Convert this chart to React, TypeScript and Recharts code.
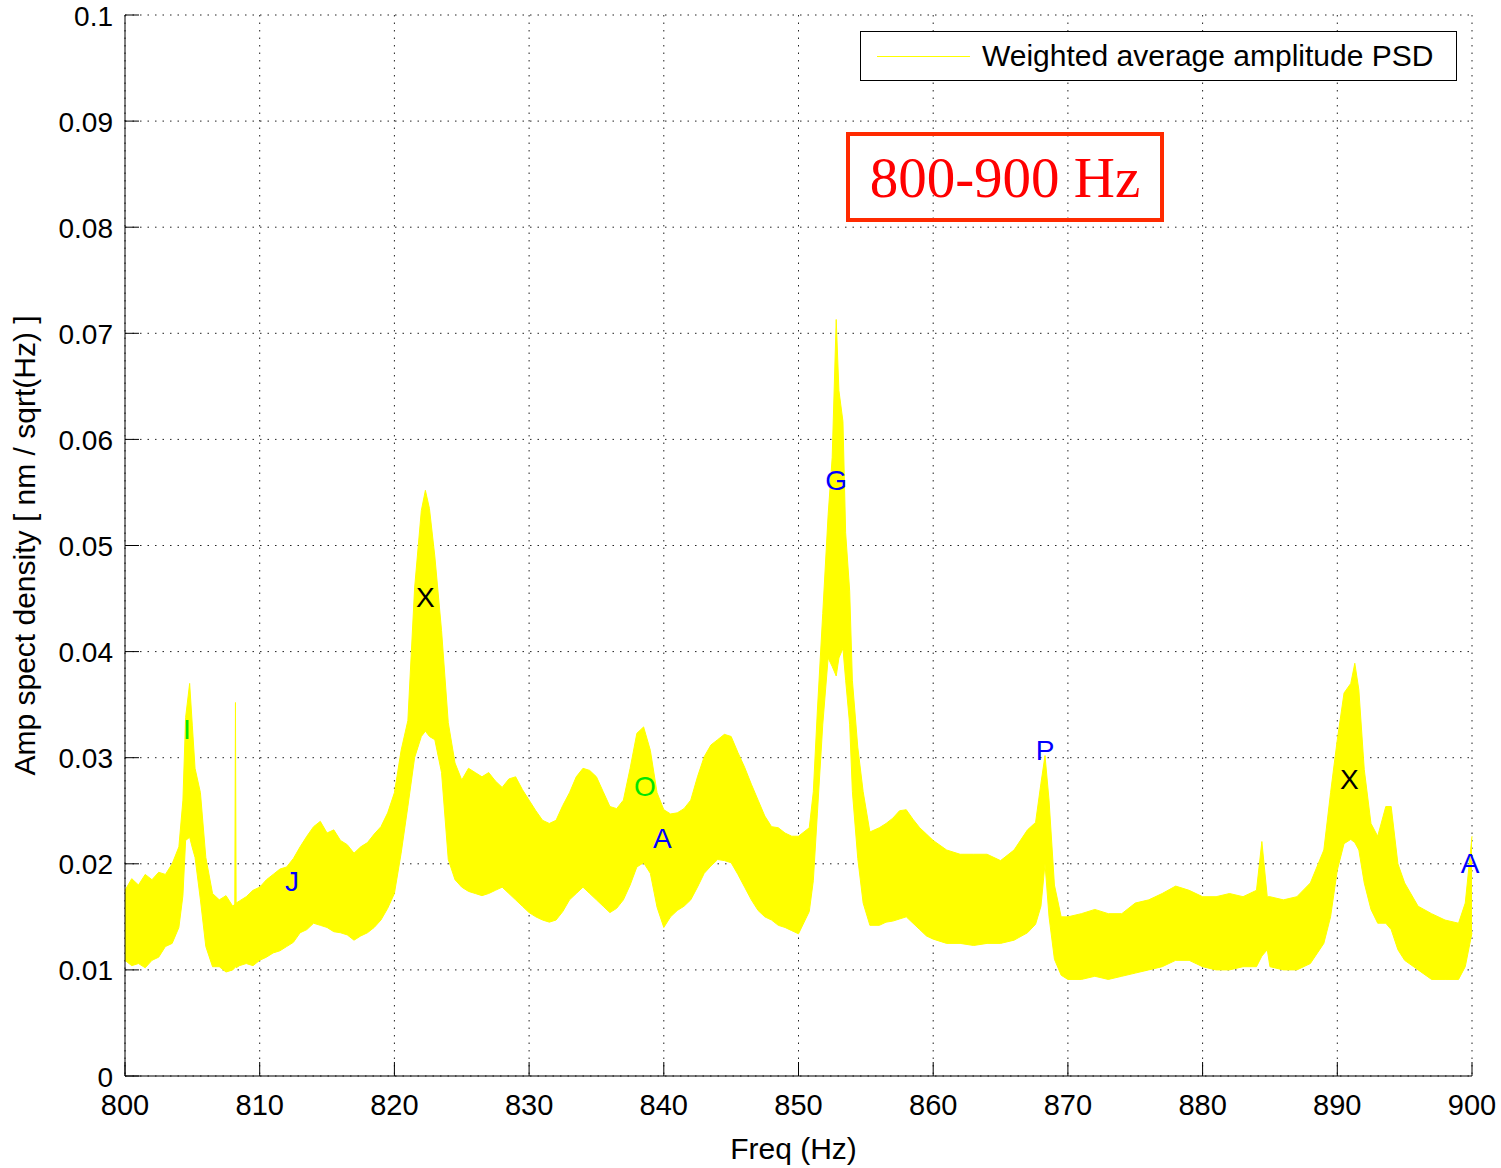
import React from 'react';
import {
  ComposedChart,
  Area,
  Scatter,
  XAxis,
  YAxis,
  CartesianGrid,
  Legend,
  Label,
} from 'recharts';

// frequency (Hz) and lower / upper envelope of the noisy PSD band
const FREQ = [
  800, 800.5, 801, 801.5, 802, 802.5, 803, 803.5, 804, 804.3, 804.5, 804.8, 805, 805.2, 805.6, 806, 806.5, 807, 807.5,
  808, 808.15, 808.2, 808.25, 808.5, 809, 809.5, 810, 810.5, 811, 811.5, 812, 812.5, 813, 813.5, 814, 814.5, 815, 815.5,
  816, 816.5, 817, 817.5, 818, 818.5, 819, 819.5, 820, 820.5, 821, 821.5, 822, 822.3, 822.6, 823, 823.5, 824, 824.5,
  825, 825.5, 826, 826.5, 827, 827.5, 828, 828.5, 829, 829.5, 830, 830.5, 831, 831.5, 832, 832.5, 833, 833.5, 834,
  834.5, 835, 835.5, 836, 836.5, 837, 837.5, 838, 838.5, 839, 839.5, 840, 840.5, 841, 841.5, 842, 842.5, 843, 843.5,
  844, 844.5, 845, 845.5, 846, 846.5, 847, 847.5, 848, 848.5, 849, 849.5, 850, 850.8, 851.1, 851.4, 851.8, 852.2,
  852.5, 852.8, 853, 853.3, 853.5, 853.8, 854, 854.4, 854.8, 855.3, 856, 856.5, 857, 857.5, 858, 858.5, 859, 859.5,
  860, 861, 862, 863, 864, 865, 866, 867, 867.6, 868, 868.3, 868.6, 869, 869.5, 870, 871, 872, 873, 874, 875, 876,
  877, 878, 879, 880, 881, 882, 883, 884, 884.4, 884.8, 885, 886, 887, 888, 889, 889.5, 890, 890.5, 891, 891.3, 891.6,
  892, 892.5, 893, 893.6, 894, 894.5, 895, 896, 897, 898, 899, 899.5, 900,
];

const LOW = [
  0.0109, 0.0104, 0.0106, 0.0102, 0.0109, 0.0112, 0.0122, 0.0125, 0.014, 0.017, 0.0222, 0.0225, 0.0215, 0.0206, 0.0166,
  0.0122, 0.0103, 0.0103, 0.0098, 0.01, 0.0102, 0.0104, 0.0102, 0.0104, 0.0106, 0.0104, 0.0109, 0.0112, 0.0116, 0.0118,
  0.0122, 0.0126, 0.0135, 0.0138, 0.0144, 0.0142, 0.014, 0.0136, 0.0135, 0.0133, 0.0128, 0.0132, 0.0135, 0.014, 0.0147,
  0.0158, 0.0172, 0.021, 0.0254, 0.03, 0.032, 0.0325, 0.032, 0.0317, 0.0286, 0.0204, 0.0185, 0.0178, 0.0174, 0.0172,
  0.017, 0.0172, 0.0175, 0.0178, 0.0172, 0.0166, 0.016, 0.0154, 0.015, 0.0147, 0.0145, 0.0147, 0.0155, 0.0166, 0.0172,
  0.0178, 0.0172, 0.0166, 0.016, 0.0154, 0.0158, 0.0166, 0.018, 0.0197, 0.0201, 0.0191, 0.0159, 0.014, 0.015, 0.0156,
  0.016, 0.0166, 0.0178, 0.0191, 0.0198, 0.0204, 0.0203, 0.0201, 0.019, 0.0178, 0.0166, 0.0156, 0.015, 0.0147, 0.0142,
  0.014, 0.0137, 0.0134, 0.0155, 0.0184, 0.0247, 0.0331, 0.0394, 0.0386, 0.0377, 0.0394, 0.0403, 0.0373, 0.0331,
  0.0268, 0.0205, 0.0163, 0.0142, 0.0142, 0.0145, 0.0146, 0.0148, 0.015, 0.0144, 0.0138, 0.0132, 0.0129, 0.0125,
  0.0125, 0.0123, 0.0125, 0.0125, 0.0128, 0.0135, 0.0143, 0.016, 0.02, 0.015, 0.011, 0.0095, 0.0091, 0.0091, 0.0094,
  0.0091, 0.0094, 0.0097, 0.01, 0.0103, 0.0109, 0.0109, 0.0103, 0.01, 0.01, 0.0103, 0.0103, 0.0113, 0.0119, 0.0103,
  0.01, 0.01, 0.0106, 0.0125, 0.015, 0.0194, 0.0219, 0.0223, 0.022, 0.0213, 0.0182, 0.0157, 0.0144, 0.0144, 0.0138,
  0.0119, 0.0109, 0.01, 0.0091, 0.0091, 0.0091, 0.0103, 0.0135,
];

const HIGH = [
  0.0175, 0.0186, 0.018, 0.019, 0.0185, 0.0192, 0.019, 0.02, 0.0216, 0.026, 0.0338, 0.037, 0.033, 0.029, 0.0267, 0.0206,
  0.0172, 0.0166, 0.017, 0.016, 0.0162, 0.0352, 0.0163, 0.0165, 0.0169, 0.0175, 0.0178, 0.0185, 0.019, 0.0195, 0.0197,
  0.0205, 0.0216, 0.0226, 0.0235, 0.024, 0.0229, 0.0232, 0.0222, 0.0218, 0.021, 0.0216, 0.022, 0.0228, 0.0235, 0.0248,
  0.0267, 0.0307, 0.0335, 0.046, 0.0533, 0.0552, 0.0535, 0.049, 0.042, 0.0333, 0.0295, 0.0279, 0.029, 0.0286, 0.0282,
  0.0286, 0.0278, 0.0272, 0.028, 0.0282, 0.027, 0.026, 0.025, 0.0241, 0.0238, 0.0241, 0.0255, 0.0267, 0.0282, 0.029,
  0.0288, 0.0282, 0.0268, 0.0254, 0.0252, 0.026, 0.029, 0.0323, 0.0329, 0.0307, 0.0267, 0.0251, 0.0247, 0.0248, 0.0252,
  0.026, 0.0282, 0.0301, 0.0312, 0.0317, 0.0322, 0.032, 0.0305, 0.0291, 0.0275, 0.026, 0.0245, 0.0235, 0.0234, 0.0229,
  0.0226, 0.0226, 0.0234, 0.0268, 0.0344, 0.0436, 0.0529, 0.0583, 0.0713, 0.0646, 0.0617, 0.0512, 0.0457, 0.0373,
  0.031, 0.0268, 0.023, 0.0234, 0.0238, 0.0243, 0.025, 0.0251, 0.0242, 0.0234, 0.0228, 0.0222, 0.0213, 0.0209, 0.0209,
  0.0209, 0.0203, 0.0213, 0.0232, 0.0239, 0.0276, 0.0302, 0.026, 0.018, 0.015, 0.015, 0.0153, 0.0157, 0.0153, 0.0153,
  0.0163, 0.0166, 0.0172, 0.0179, 0.0175, 0.0169, 0.0169, 0.0172, 0.0169, 0.0175, 0.0221, 0.0169, 0.0169, 0.0166,
  0.0169, 0.0182, 0.0213, 0.0267, 0.0317, 0.0361, 0.037, 0.0389, 0.0364, 0.0289, 0.0238, 0.0226, 0.0254, 0.0254, 0.02,
  0.0182, 0.016, 0.0153, 0.0147, 0.0144, 0.0163, 0.0226,
];

// peak annotations
const MARK_FREQ = [804.6, 812.4, 822.3, 838.6, 839.9, 852.8, 868.3, 890.9, 899.85];
const MARK_VAL = [0.0327, 0.0183, 0.0451, 0.0273, 0.0224, 0.0561, 0.0307, 0.0279, 0.02];
const MARK_TEXT = ['I', 'J', 'X', 'O', 'A', 'G', 'P', 'X', 'A'];
const MARK_COLOR = ['#00e600', '#0000ff', '#000000', '#00e600', '#0000ff', '#0000ff', '#0000ff', '#000000', '#0000ff'];

const X_TICKS = [800, 810, 820, 830, 840, 850, 860, 870, 880, 890, 900];
const Y_TICKS = [0, 0.01, 0.02, 0.03, 0.04, 0.05, 0.06, 0.07, 0.08, 0.09, 0.1];
const Y_LABELS = ['0', '0.01', '0.02', '0.03', '0.04', '0.05', '0.06', '0.07', '0.08', '0.09', '0.1'];

const SERIES_NAME = 'Weighted average amplitude PSD';
const FONT = '"Liberation Sans", Arial, Helvetica, sans-serif';
const TICK_LEN = 14;

const band = FREQ.map((f, i) => ({ f, range: [LOW[i], HIGH[i]] }));
const marks = MARK_FREQ.map((f, i) => ({ f, v: MARK_VAL[i], t: MARK_TEXT[i], c: MARK_COLOR[i] }));

function BottomTick({ x, y, payload }: any) {
  return (
    <g>
      <line x1={x} y1={y} x2={x} y2={y - TICK_LEN} stroke="#000" />
      <text x={x} y={y + 29} textAnchor="middle" dominantBaseline="central" fontSize={29} fontFamily={FONT} fill="#000">
        {payload.value}
      </text>
    </g>
  );
}

function LeftTick({ x, y, payload, index }: any) {
  return (
    <g>
      <line x1={x} y1={y} x2={x + TICK_LEN} y2={y} stroke="#000" />
      <text x={x - 12} y={y + 1} textAnchor="end" dominantBaseline="central" fontSize={28} fontFamily={FONT} fill="#000">
        {Y_LABELS[index] ?? payload.value}
      </text>
    </g>
  );
}

function TopTick({ x, y }: any) {
  return <line x1={x} y1={y} x2={x} y2={y + TICK_LEN} stroke="#000" />;
}

function RightTick({ x, y }: any) {
  return <line x1={x} y1={y} x2={x - TICK_LEN} y2={y} stroke="#000" />;
}

function MarkText(props: any) {
  const { cx, cy, payload } = props;
  return (
    <text x={cx} y={cy} textAnchor="middle" dominantBaseline="central" fontSize={28} fontFamily={FONT} fill={payload.c}>
      {payload.t}
    </text>
  );
}

function LegendBox() {
  return (
    <div
      style={{
        width: 597,
        height: 50,
        border: '1px solid #000',
        background: '#fff',
        display: 'flex',
        alignItems: 'center',
        boxSizing: 'border-box',
        fontFamily: FONT,
        fontSize: 30,
        color: '#000',
      }}
    >
      <span style={{ display: 'inline-block', width: 93, height: 0, borderTop: '1.5px solid #ffff00', marginLeft: 16, marginRight: 12 }} />
      <span>{SERIES_NAME}</span>
    </div>
  );
}

export default function App() {
  return (
    <div style={{ position: 'absolute', left: 0, top: 0, width: 1501, height: 1168, background: '#fff' }}>
      <ComposedChart width={1501} height={1168} data={band} margin={{ top: 15, right: 29, bottom: 32, left: 15 }}>
        <CartesianGrid stroke="#222" strokeDasharray="1.5 6" />
        <XAxis
          dataKey="f"
          type="number"
          domain={[800, 900]}
          ticks={X_TICKS}
          height={60}
          stroke="#000"
          tickLine={false}
          tickSize={0}
          tickMargin={0}
          tick={<BottomTick />}
          interval={0}
        >
          <Label
            content={({ viewBox }: any) => (
              <text
                x={viewBox.x + viewBox.width / 2 - 5}
                y={viewBox.y + 72}
                textAnchor="middle"
                dominantBaseline="central"
                fontSize={30}
                fontFamily={FONT}
                fill="#000"
              >
                Freq (Hz)
              </text>
            )}
          />
        </XAxis>
        <YAxis
          type="number"
          domain={[0, 0.1]}
          ticks={Y_TICKS}
          width={110}
          stroke="#000"
          tickLine={false}
          tickSize={0}
          tickMargin={0}
          tick={<LeftTick />}
          interval={0}
        >
          <Label
            content={({ viewBox }: any) => {
              const cx = viewBox.x + 9;
              const cy = viewBox.y + viewBox.height / 2;
              return (
                <text
                  x={cx}
                  y={cy}
                  transform={`rotate(-90, ${cx}, ${cy})`}
                  textAnchor="middle"
                  dominantBaseline="central"
                  fontSize={30}
                  fontFamily={FONT}
                  fill="#000"
                >
                  Amp spect density [ nm / sqrt(Hz) ]
                </text>
              );
            }}
          />
        </YAxis>
        <XAxis
          xAxisId="top"
          orientation="top"
          type="number"
          domain={[800, 900]}
          ticks={X_TICKS}
          height={0}
          stroke="#000"
          tickLine={false}
          tickSize={0}
          tickMargin={0}
          tick={<TopTick />}
          interval={0}
        />
        <YAxis
          yAxisId="right"
          orientation="right"
          type="number"
          domain={[0, 0.1]}
          ticks={Y_TICKS}
          width={0}
          stroke="#000"
          tickLine={false}
          tickSize={0}
          tickMargin={0}
          tick={<RightTick />}
          interval={0}
        />
        <Legend
          layout="vertical"
          align="center"
          verticalAlign="middle"
          wrapperStyle={{ left: 860, top: 31, width: 597, height: 50 }}
          content={() => <LegendBox />}
        />
        <Area
          dataKey="range"
          name={SERIES_NAME}
          type="linear"
          stroke="#ffff00"
          strokeWidth={1}
          fill="#ffff00"
          fillOpacity={1}
          isAnimationActive={false}
        />
        <Scatter data={marks} dataKey="v" shape={<MarkText />} legendType="none" isAnimationActive={false} />
      </ComposedChart>
      <div
        style={{
          position: 'absolute',
          left: 846,
          top: 132,
          width: 318,
          height: 90,
          boxSizing: 'border-box',
          border: '4px solid #ff2a00',
          display: 'flex',
          alignItems: 'center',
          justifyContent: 'center',
          fontFamily: '"Liberation Serif", "Times New Roman", serif',
          fontSize: 57,
          color: '#ff0000',
          background: 'transparent',
        }}
      >
        800-900 Hz
      </div>
    </div>
  );
}
